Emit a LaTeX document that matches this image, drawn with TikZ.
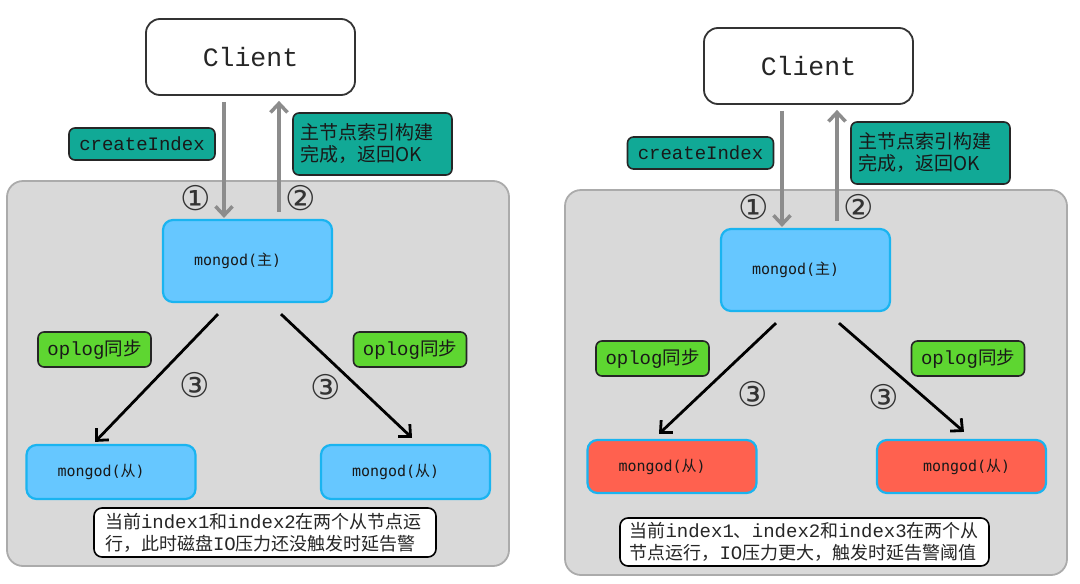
\documentclass[tikz,border=0pt]{standalone}
\usepackage{fontspec}
\usetikzlibrary{arrows.meta}
\newfontfamily\cjk{Noto Sans CJK SC}
\newfontfamily\mono{Liberation Mono}
\newfontfamily\dvs{DejaVu Sans}
\newfontfamily\dvm{DejaVu Sans Mono}
\newcommand\zhn[1]{{\cjk\fontsize{18}{22}\selectfont #1}}
\newcommand\zhm[1]{{\cjk\fontsize{15}{17}\selectfont #1}}
\newcommand\zho[1]{{\cjk\fontsize{18.5}{22}\selectfont #1}}
\definecolor{panelgray}{HTML}{D9D9D9}
\definecolor{panelborder}{HTML}{ABABAB}
\definecolor{tealc}{HTML}{11A996}
\definecolor{greenc}{HTML}{5ED631}
\definecolor{bluef}{HTML}{66C7FF}
\definecolor{blueb}{HTML}{1AB4F0}
\definecolor{redf}{HTML}{FF614F}
\definecolor{arrowgray}{HTML}{8C8C8C}
\begin{document}
\begin{tikzpicture}[x=1pt,y=-1pt,
  panel/.style={draw=panelborder, fill=panelgray, line width=1.8pt, rounded corners=16pt},
  clientbox/.style={draw=black!80, fill=white, line width=1.8pt, rounded corners=14pt, minimum width=209pt, minimum height=76pt, inner sep=0pt, font=\mono\fontsize{26.5}{30}\selectfont, text=black!85},
  tealbox/.style={draw=black!85, fill=tealc, line width=1.6pt, rounded corners=6pt, text=black!90},
  cidx/.style={tealbox, minimum width=146pt, minimum height=32pt, inner sep=0pt, font=\mono\fontsize{19}{22}\selectfont},
  okbox/.style={tealbox, inner xsep=7pt, inner ysep=0pt, text width=145pt, minimum height=62pt, align=left, font=\cjk\fontsize{19}{22}\selectfont},
  oplogbox/.style={draw=black!85, fill=greenc, line width=1.6pt, rounded corners=6pt, minimum width=113pt, minimum height=35pt, inner sep=0pt, font=\mono\fontsize{19}{22}\selectfont, text=black!90},
  mbox/.style={draw=blueb, fill=bluef, line width=2.2pt, rounded corners=10pt, inner xsep=31pt, inner ysep=0pt, text width=107pt, align=left, font=\dvm\fontsize{15}{17}\selectfont, text=black!90},
  mainbox/.style={mbox, minimum height=82pt},
  slavebox/.style={mbox, minimum height=54pt},
  redbox/.style={mbox, fill=redf, minimum height=53pt},
  notebox/.style={draw=black, fill=white, line width=1.6pt, rounded corners=8pt, align=left, inner ysep=0pt, font=\mono\fontsize{19}{22}\selectfont, text=black!85},
  circ/.style={font=\dvs\fontsize{34}{36}\selectfont, text=black!80, inner sep=0pt},
  garrow/.style={draw=arrowgray, line width=3.5pt, -{Straight Barb[length=9pt,width=17pt]}},
  barrow/.style={draw=black, line width=2.8pt, -{Straight Barb[length=9pt,width=17pt]}}
]
\useasboundingbox (0,0) rectangle (1080,584);

% ---------------- left panel ----------------
\draw[panel] (7,181) rectangle (509,566);
\node[clientbox] (clientL) at (250.5,57) {Client};
\node[cidx] (cidxL) at (142,144) {createIndex};
\node[okbox] (okL) at (372.5,144) {主节点索引构建\\完成，返回OK};
\node[mainbox] (mainL) at (247.5,261) {mongod(\zhm{主})};
\node[oplogbox] (oplogLL) at (94.5,349.5) {oplog\zho{同步}};
\node[oplogbox] (oplogLR) at (410,349.5) {oplog\zho{同步}};
\node[slavebox] (slaveLL) at (111,472) {mongod(\zhm{从})};
\node[slavebox] (slaveLR) at (405.5,472) {mongod(\zhm{从})};
\node[notebox, inner xsep=11pt, text width=320pt, minimum height=49pt] (noteL) at (265,532.5)
  {\zhn{当前}index1\zhn{和}index2\zhn{在两个从节点运}\\\zhn{行，此时磁盘}IO\zhn{压力还没触发时延告警}};
\node[circ] (c1L) at (196,198) {①};
\node[circ] (c2L) at (301,198) {②};
\node[circ] (c3LL) at (195,385) {③};
\node[circ] (c3LR) at (326,387) {③};
\draw[garrow] ([xshift=-26.5pt,yshift=-6pt]clientL.south) -- ([xshift=-23.5pt,yshift=1pt]mainL.north);
\draw[garrow] ([xshift=31.5pt,yshift=7pt]mainL.north) -- ([xshift=28.5pt,yshift=-5pt]clientL.south);
\draw[barrow] ([xshift=-29.5pt,yshift=-11pt]mainL.south) -- ([xshift=-16pt,yshift=2pt]slaveLL.north);
\draw[barrow] ([xshift=33.5pt,yshift=-11pt]mainL.south) -- ([xshift=6.5pt,yshift=6pt]slaveLR.north);

% ---------------- right panel ----------------
\draw[panel] (565,190) rectangle (1067,575);
\node[clientbox] (clientR) at (808.5,66) {Client};
\node[cidx] (cidxR) at (700.5,153) {createIndex};
\node[okbox] (okR) at (930.5,153) {主节点索引构建\\完成，返回OK};
\node[mainbox] (mainR) at (805.5,270) {mongod(\zhm{主})};
\node[oplogbox] (oplogRL) at (652.5,358.5) {oplog\zho{同步}};
\node[oplogbox] (oplogRR) at (968,358.5) {oplog\zho{同步}};
\node[redbox] (slaveRL) at (672,466.5) {mongod(\zhm{从})};
\node[redbox] (slaveRR) at (961.5,466.5) {\hspace*{15pt}mongod(\zhm{从})};
\node[notebox, inner xsep=9.5pt, text width=350pt, minimum height=48pt] (noteR) at (804.5,542)
  {\zhn{当前}index1\zhn{、}index2\zhn{和}index3\zhn{在两个从}\\\zhn{节点运行，}IO\zhn{压力更大，触发时延告警阈值}};
\node[circ] (c1R) at (754,207) {①};
\node[circ] (c2R) at (859,207) {②};
\node[circ] (c3RL) at (753,394) {③};
\node[circ] (c3RR) at (884,397) {③};
\draw[garrow] ([xshift=-26.5pt,yshift=-6pt]clientR.south) -- ([xshift=-23.5pt,yshift=1pt]mainR.north);
\draw[garrow] ([xshift=31.5pt,yshift=7pt]mainR.north) -- ([xshift=28.5pt,yshift=-5pt]clientR.south);
\draw[barrow] ([xshift=-29.5pt,yshift=-11pt]mainR.south) -- ([xshift=-13pt,yshift=5pt]slaveRL.north);
\draw[barrow] ([xshift=33.5pt,yshift=-11pt]mainR.south) -- ([xshift=2.5pt,yshift=7pt]slaveRR.north);
\end{tikzpicture}
\end{document}
